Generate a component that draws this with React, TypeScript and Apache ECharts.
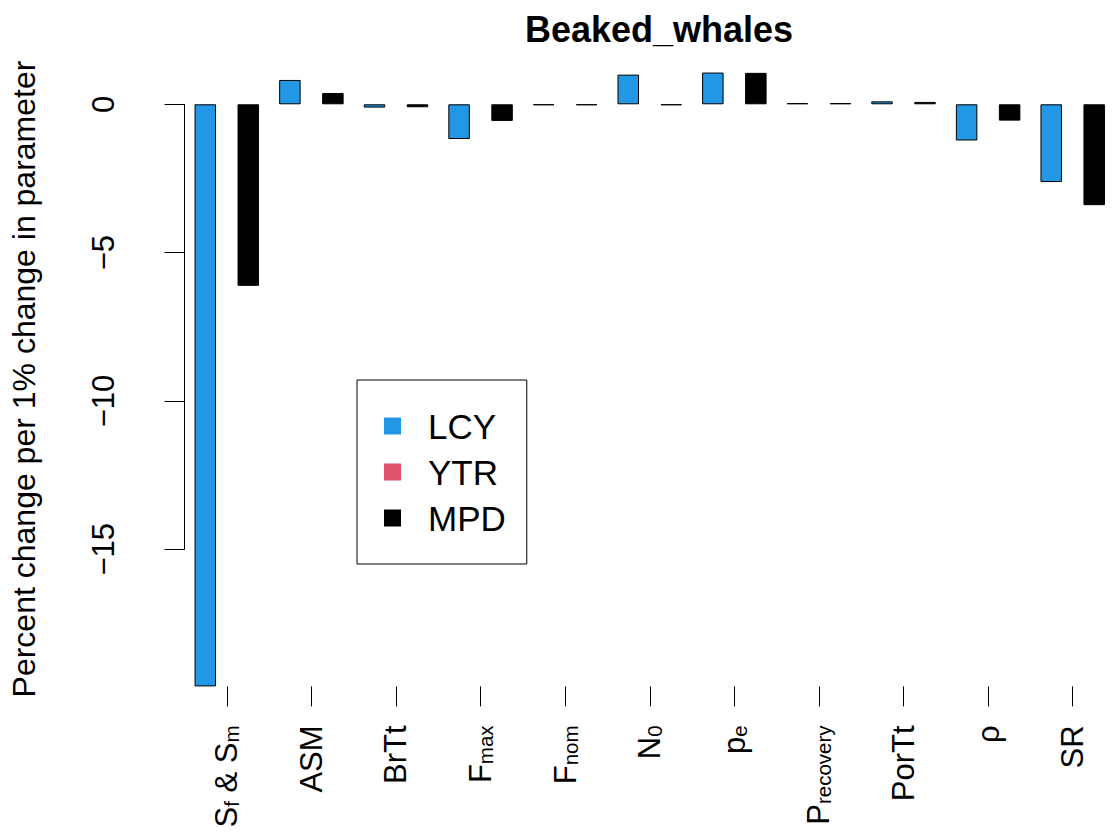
import React, { useEffect, useRef } from 'react';
import * as echarts from 'echarts';

const FONT = '"Liberation Sans", Arial, Helvetica, sans-serif';

const categories = ['Sf & Sm', 'ASM', 'BrTt', 'Fmax', 'Fnom', 'N0', 'pe', 'Precovery', 'PorTt', 'rho', 'SR'];
const tickLabels = [
  '{n|S}{s|f}{n| & S}{s|m}',
  '{m|ASM}',
  '{m|BrTt}',
  '{n|F}{s|max}',
  '{n|F}{s|nom}',
  '{n|N}{s|0}',
  '{n|p}{s|e}',
  '{n|P}{s|recovery}',
  '{m|PorTt}',
  '{m|\u03c1}',
  '{m|SR}',
];
const seriesNames = ['LCY', 'YTR', 'MPD'];
const seriesColors = ['#2297E6', '#DF536B', '#000000'];
const lcy = [-19.62, 0.82, -0.11, -1.17, -0.03, 1.0, 1.07, 0.04, 0.1, -1.22, -2.62];
const ytr = [null, null, null, null, null, null, null, null, null, null, null];
const mpd = [-6.12, 0.38, -0.1, -0.56, -0.03, -0.03, 1.06, 0.04, 0.08, -0.55, -3.4];
const yTickMin = -15;
const yTickMax = 0;
const yTickStep = 5;
const dataMin = -19.62;
const dataMax = 1.07;

const title = 'Beaked_whales';
const yName = 'Percent change per 1% change in parameter';

export default function App() {
  const ref = useRef<HTMLDivElement>(null);
  useEffect(() => {
    if (!ref.current) return;
    const chart = echarts.init(ref.current, null, { renderer: 'svg' });
    const values = [lcy, ytr, mpd];
    const option: any = {
      animation: false,
      backgroundColor: '#ffffff',
      textStyle: { fontFamily: FONT, color: '#000' },
      grid: [
        { left: 184.5, right: -15.5, top: 72.55, bottom: 147.6 },
        { left: 184.5, right: -15.5, top: 104.3, bottom: 284.7 },
      ],
      xAxis: [
        {
          gridIndex: 0,
          type: 'category',
          data: categories,
          axisLine: { show: false, onZero: false },
          axisTick: { show: true, alignWithLabel: true, length: 20, lineStyle: { color: '#000', width: 1 } },
          axisLabel: {
            interval: 0,
            rotate: 90,
            margin: 39,
            color: '#000',
            formatter: (_v: string, i: number) => tickLabels[i],
            rich: {
              m: { fontSize: 31, lineHeight: 31, fontFamily: FONT, color: '#000' },
              n: { fontSize: 31, lineHeight: 31, fontFamily: FONT, color: '#000', verticalAlign: 'top', padding: [0, 0, 8.3, 0] },
              s: { fontSize: 20.5, lineHeight: 20, fontFamily: FONT, color: '#000', verticalAlign: 'bottom', padding: [19.3, 0, 0, 0] },
            },
          },
          splitLine: { show: false },
        },
        { gridIndex: 1, type: 'value', show: false, min: 0, max: 1 },
      ],
      yAxis: [
        {
          gridIndex: 0,
          type: 'value',
          min: dataMin,
          max: dataMax,
          show: false,
        },
        {
          gridIndex: 1,
          type: 'value',
          min: yTickMin,
          max: yTickMax,
          interval: yTickStep,
          offset: 25.5,
          axisLine: { show: true, lineStyle: { color: '#000', width: 1 } },
          axisTick: { show: true, length: 20, lineStyle: { color: '#000', width: 1 } },
          axisLabel: {
            rotate: 90,
            margin: 40,
            fontSize: 31,
            color: '#000',
            fontFamily: FONT,
            formatter: (v: number) => (v < 0 ? '\u2212' + Math.abs(v) : String(v)),
          },
          splitLine: { show: false },
        },
      ],
      legend: {
        data: seriesNames,
        orient: 'vertical',
        left: 357,
        top: 380,
        icon: 'rect',
        itemWidth: 17,
        itemHeight: 17,
        itemGap: 11,
        padding: [28.5, 21, 28.5, 27],
        borderColor: '#000',
        borderWidth: 1,
        selectedMode: false,
        itemStyle: { borderWidth: 0 },
        textStyle: { fontSize: 35, color: '#000', fontFamily: FONT, padding: [0, 0, 0, 22] },
      },
      graphic: [
        {
          type: 'text',
          x: 659,
          y: 29,
          style: {
            text: title,
            fontSize: 36,
            fontWeight: 'bold',
            fontFamily: FONT,
            fill: '#000',
            textAlign: 'center',
            textVerticalAlign: 'middle',
            verticalAlign: 'middle',
          },
        },
        {
          type: 'text',
          x: 24,
          y: 379,
          rotation: Math.PI / 2,
          style: {
            text: yName,
            fontSize: 32,
            fontFamily: FONT,
            fill: '#000',
            textAlign: 'center',
            textVerticalAlign: 'middle',
            verticalAlign: 'middle',
          },
        },
      ],
      series: seriesNames.map((name, k) => ({
        type: 'bar',
        name,
        xAxisIndex: 0,
        yAxisIndex: 0,
        data: values[k],
        barWidth: 21.5,
        barGap: '0%',
        clip: false,
        itemStyle: { color: seriesColors[k], borderColor: '#000', borderWidth: 1 },
      })),
    };
    chart.setOption(option);
    return () => chart.dispose();
  }, []);
  return (
    <div
      ref={ref}
      style={{ position: 'absolute', left: 0, top: 0, width: 1115, height: 834 }}
    />
  );
}
